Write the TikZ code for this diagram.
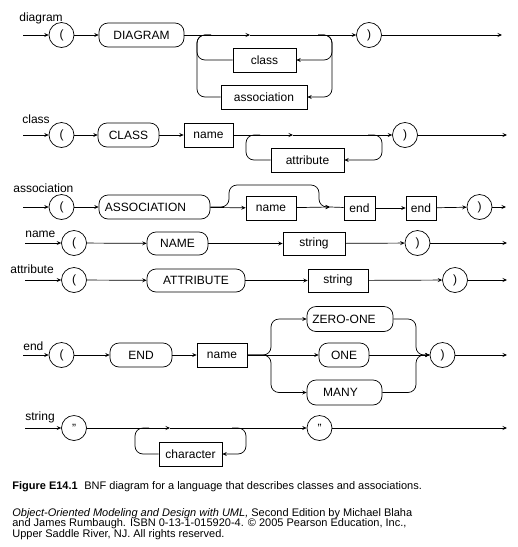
\documentclass[tikz,border=0pt]{standalone}
\usepackage{fontspec}
\setmainfont{Liberation Sans}
\usetikzlibrary{arrows.meta}

\begin{document}
\begin{tikzpicture}[x=1pt,y=-1pt,line width=0.7pt,
	>={Stealth[length=4.5pt,width=4pt,inset=1.8pt]},
	every node/.style={font=\fontsize{12}{14}\selectfont},
	lbl/.style={anchor=base west,inner sep=0pt},
	term/.style={draw,rounded corners=9pt,minimum height=24,inner sep=0pt},
	nt/.style={draw,minimum height=24,inner sep=0pt},
	tok/.style={draw,circle,minimum size=25,inner sep=0pt},
	rr/.style={rounded corners=8pt}]
	\useasboundingbox (0,0) rectangle (518,547);

	% diagram
	\node[lbl] (dl) at (19,21) {diagram};
	\coordinate (d0) at (23,35);
	\node[tok] (d1) at (61.5,35) {(};
	\node[term,minimum width=85] (d2) at (141.5,35) {DIAGRAM};
	\node[nt,minimum width=63] (d3) at (264.5,60) {class};
	\node[nt,minimum width=86] (d4) at (264,97) {association};
	\node[tok] (d5) at (369,35) {)};
	\coordinate (dja) at (197,35);
	\coordinate (djb) at (332,35);
	\coordinate (dm) at (250,35);
	\coordinate (d6) at (502,35);
	\draw[->] (d0) -- (d1);
	\draw[->] (d1) -- (d2);
	\draw[->] (d2) -- (dm);
	\draw[->] (dm) -- (d5);
	\draw[->] (d5) -- (d6);
	\draw[->,rr] ([xshift=-14pt]djb) -- (djb) |- (d3);
	\draw[->,rr] ([xshift=-14pt]djb) -- (djb) |- (d4);
	\draw[rr] (d3) -| (dja) -- ([xshift=14pt]dja);
	\draw[rr] (d4) -| (dja) -- ([xshift=14pt]dja);

	% class
	\node[lbl] (cl) at (22,123) {class};
	\coordinate (c0) at (23,135);
	\node[tok] (c1) at (61.5,135) {(};
	\node[term,minimum width=61] (c2) at (128.5,135) {CLASS};
	\node[nt,minimum width=49] (c3) at (208.5,135) {name};
	\node[nt,minimum width=73] (c4) at (307.5,160) {attribute};
	\node[tok] (c5) at (405,135) {)};
	\coordinate (cja) at (246,135);
	\coordinate (cjb) at (382,135);
	\coordinate (cm) at (293,135);
	\coordinate (c6) at (507,135);
	\draw[->] (c0) -- (c1);
	\draw[->] (c1) -- (c2);
	\draw[->] (c2) -- (c3);
	\draw[->] (c3) -- (cm);
	\draw[->] (cm) -- (c5);
	\draw[->] (c5) -- (c6);
	\draw[->,rr] ([xshift=-14pt]cjb) -- (cjb) |- (c4);
	\draw[rr] (c4) -| (cja) -- ([xshift=14pt]cja);

	% association
	\node[lbl] (al) at (13,192) {association};
	\coordinate (a0) at (23,207);
	\node[tok] (a1) at (61.5,207) {(};
	\node[term,minimum width=111] (a2) at (154.5,207) {ASSOCIATION\hspace{18pt}\mbox{}};
	\node[nt,minimum width=50] (a3) at (271,208) {name};
	\node[nt,minimum width=31] (a4) at (359.5,208) {end};
	\node[nt,minimum width=30] (a5) at (421,208) {end};
	\node[tok] (a6) at (479.5,207) {)};
	\coordinate (at1) at (229,185);
	\coordinate (ajb) at (319,207);
	\coordinate (am) at (330,207);
	\coordinate (a7) at (506,207);
	\draw[->] (a0) -- (a1);
	\draw[->] (a1) -- (a2);
	\draw[->] (a2) -- (a3);
	\draw[->] (a3) -- (am);
	\draw (am) -- (a4);
	\draw[->] (a4) -- (a5);
	\draw[->] (a5) -- (a6);
	\draw[->] (a6) -- (a7);
	\draw[->,rr] (a2) -| (at1) -| (ajb) -- (am);

	% name
	\node[lbl] (nl) at (25,237) {name};
	\coordinate (n0) at (25,243);
	\node[tok] (n1) at (74,243) {(};
	\node[term,minimum width=61,minimum height=23] (n2) at (177.5,243.5) {NAME};
	\node[nt,minimum width=62,minimum height=23] (n3) at (314,243.5) {string};
	\node[tok] (n4) at (417.5,243) {)};
	\coordinate (n5) at (507,243);
	\draw[->] (n0) -- (n1);
	\draw[->] (n1) -- (n2);
	\draw[->] (n2) -- (n3);
	\draw[->] (n3) -- (n4);
	\draw[->] (n4) -- (n5);

	% attribute
	\node[lbl] (tl) at (10,273) {attribute};
	\coordinate (t0) at (25,280);
	\node[tok] (t1) at (74,280) {(};
	\node[term,minimum width=98,minimum height=23] (t2) at (196,280.5) {ATTRIBUTE};
	\node[nt,minimum width=60,minimum height=23] (t3) at (338,280.5) {string};
	\node[tok] (t4) at (455,280) {)};
	\coordinate (t5) at (507,280);
	\draw[->] (t0) -- (t1);
	\draw[->] (t1) -- (t2);
	\draw[->] (t2) -- (t3);
	\draw[->] (t3) -- (t4);
	\draw[->] (t4) -- (t5);

	% end
	\node[lbl] (el) at (23,350) {end};
	\coordinate (e0) at (23,355);
	\node[tok] (e1) at (61.5,355) {(};
	\node[term,minimum width=62] (e2) at (141,355) {END};
	\node[nt,minimum width=50] (e3) at (222,355) {name};
	\node[term,minimum width=86,minimum height=25] (e4) at (350,319) {ZERO-ONE\hspace{12pt}\mbox{}};
	\node[term,minimum width=50] (e5) at (344,355) {ONE};
	\node[term,minimum width=75,minimum height=25] (e6) at (344.5,392.5) {MANY\hspace{8pt}\mbox{}};
	\node[tok] (e7) at (442.5,355) {)};
	\coordinate (eja) at (271,355);
	\coordinate (ejb) at (416,355);
	\coordinate (e8) at (507,355);
	\draw[->] (e0) -- (e1);
	\draw[->] (e1) -- (e2);
	\draw[->] (e2) -- (e3);
	\draw[->] (e3) -- (e5);
	\draw[->] (e5) -- (e7);
	\draw[->] (e7) -- (e8);
	\draw[->,rr] (e3) -- (eja) |- (e4);
	\draw[->,rr] (e3) -- (eja) |- (e6);
	\draw[->,rr] (e4) -| (ejb) -- (e7);
	\draw[->,rr] (e6) -| (ejb) -- (e7);

	% string
	\node[lbl] (sl) at (25,420) {string};
	\coordinate (s0) at (25,428);
	\node[tok] (s1) at (74,428) {"};
	\node[nt,minimum width=63] (s2) at (190.5,454) {character};
	\node[tok] (s3) at (319.5,428) {"};
	\coordinate (sja) at (135,428);
	\coordinate (sjb) at (246,428);
	\coordinate (sm) at (170,428);
	\coordinate (s4) at (507,428);
	\draw[->] (s0) -- (s1);
	\draw[->] (s1) -- (sm);
	\draw[->] (sm) -- (s3);
	\draw[->] (s3) -- (s4);
	\draw[->,rr] ([xshift=-14pt]sjb) -- (sjb) |- (s2);
	\draw[rr] (s2) -| (sja) -- ([xshift=14pt]sja);

	% caption
	\node[lbl,font=\fontsize{11}{12}\selectfont] (cap) at (12,489)
		{\textbf{Figure E14.1}\hspace{0.6em}BNF diagram for a language that describes classes and associations.};
	\node[anchor=north west,inner sep=0pt,align=left,font=\fontsize{11}{10.5}\selectfont] (cred) at (12,507.8)
		{\textit{Object-Oriented Modeling and Design with UML,} Second Edition by Michael Blaha\\
		and James Rumbaugh. ISBN 0-13-1-015920-4. \textcopyright{} 2005 Pearson Education, Inc.,\\
		Upper Saddle River, NJ. All rights reserved.};
\end{tikzpicture}
\end{document}
